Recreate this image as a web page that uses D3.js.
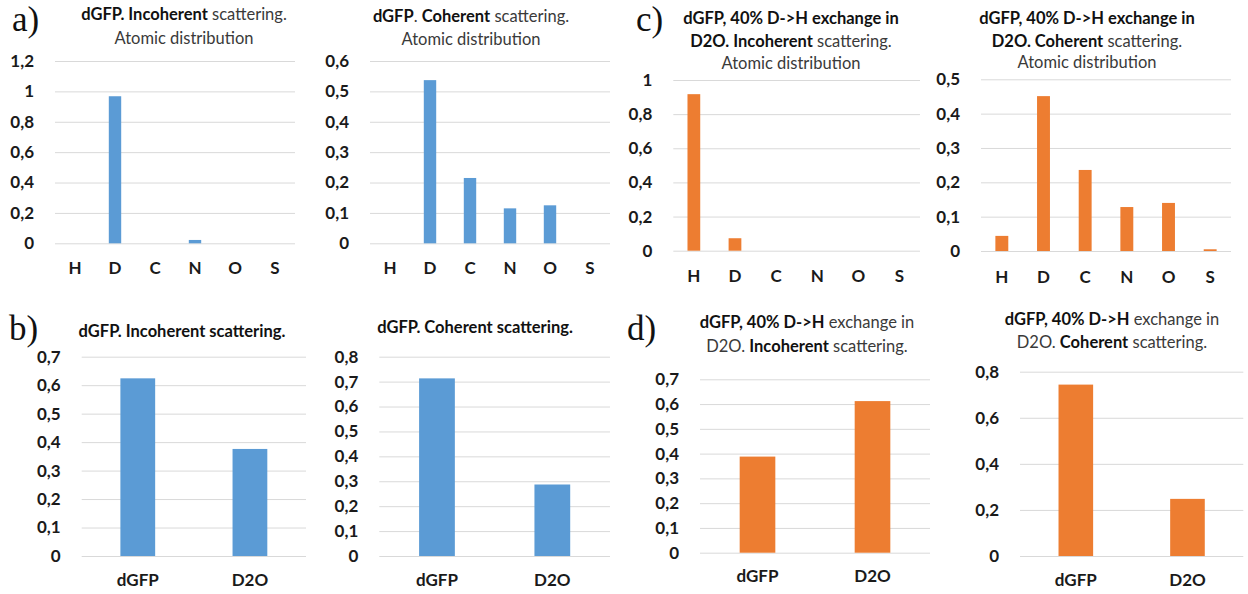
<!DOCTYPE html>
<html>
<head>
<meta charset="utf-8">
<script src="https://cdn.jsdelivr.net/npm/d3@7"></script>
<style>
  html, body { margin: 0; padding: 0; background: #fff; }
  svg { display: block; font-family: Lato, "Open Sans", sans-serif; }
</style>
</head>
<body>
<svg id="fig" width="1248" height="594"></svg>
<script>
// Atom categories (top row) and sample categories (bottom row)
const atoms = ["H", "D", "C", "N", "O", "S"];
const samples = ["dGFP", "D2O"];

// a) dGFP, atomic distribution of scattering
const dgfpIncoherentAtoms = [0, 0.968, 0, 0.022, 0, 0];
const dgfpCoherentAtoms = [0, 0.537, 0.215, 0.115, 0.125, 0];

// c) dGFP with 40% D->H exchange in D2O, atomic distribution
const exchIncoherentAtoms = [0.917, 0.073, 0, 0, 0, 0];
const exchCoherentAtoms = [0.044, 0.451, 0.236, 0.128, 0.14, 0.005];

// b) dGFP vs D2O contributions
const dgfpIncoherentSamples = [0.624, 0.376];
const dgfpCoherentSamples = [0.713, 0.287];

// d) 40% D->H exchange, dGFP vs D2O contributions
const exchIncoherentSamples = [0.388, 0.612];
const exchCoherentSamples = [0.744, 0.248];

// y-axis tick values
const ticksA1 = [0, 0.2, 0.4, 0.6, 0.8, 1, 1.2];
const ticksA2 = [0, 0.1, 0.2, 0.3, 0.4, 0.5, 0.6];
const ticksC1 = [0, 0.2, 0.4, 0.6, 0.8, 1];
const ticksC2 = [0, 0.1, 0.2, 0.3, 0.4, 0.5];
const ticksB1 = [0, 0.1, 0.2, 0.3, 0.4, 0.5, 0.6, 0.7];
const ticksB2 = [0, 0.1, 0.2, 0.3, 0.4, 0.5, 0.6, 0.7, 0.8];
const ticksD1 = [0, 0.1, 0.2, 0.3, 0.4, 0.5, 0.6, 0.7];
const ticksD2 = [0, 0.2, 0.4, 0.6, 0.8];

const BLUE = "#5B9BD5";
const ORANGE = "#ED7D31";
const AXIS_FONT = 17;
const TITLE_FONT = 16.5;

const locale = d3.formatLocale({ decimal: ",", thousands: " ", grouping: [3], currency: ["", ""] });
const fmt = locale.format("~");

const svg = d3.select("#fig");

// Panel layout: plot box [x0, x1] x [yTop, yZero] and title lines as [text, bold] runs
const panels = [
  { cats: atoms, values: dgfpIncoherentAtoms, ticks: ticksA1, color: BLUE,
    x0: 55, x1: 295, yTop: 61, yZero: 243.3, catDy: 25,
    titleX: 184, title: [
      { y: 20, runs: [["dGFP. Incoherent", true], [" scattering.", false]] },
      { y: 43.5, runs: [["Atomic distribution", false]] }] },
  { cats: atoms, values: dgfpCoherentAtoms, ticks: ticksA2, color: BLUE,
    x0: 370, x1: 610, yTop: 61, yZero: 243.3, catDy: 25,
    titleX: 471, title: [
      { y: 21.5, runs: [["dGFP", true], [". ", false], ["Coherent", true], [" scattering.", false]] },
      { y: 45, runs: [["Atomic distribution", false]] }] },
  { cats: atoms, values: exchIncoherentAtoms, ticks: ticksC1, color: ORANGE,
    x0: 673.3, x1: 920, yTop: 80, yZero: 250.7, catDy: 26,
    titleX: 791, title: [
      { y: 23.5, runs: [["dGFP, 40% D->H exchange in", true]] },
      { y: 46.5, runs: [["D2O. Incoherent", true], [" scattering.", false]] },
      { y: 68.5, runs: [["Atomic distribution", false]] }] },
  { cats: atoms, values: exchCoherentAtoms, ticks: ticksC2, color: ORANGE,
    x0: 981, x1: 1231, yTop: 79.3, yZero: 251, catDy: 26,
    titleX: 1087, title: [
      { y: 23.5, runs: [["dGFP, 40% D->H exchange in", true]] },
      { y: 46.5, runs: [["D2O. Coherent", true], [" scattering.", false]] },
      { y: 68, runs: [["Atomic distribution", false]] }] },
  { cats: samples, values: dgfpIncoherentSamples, ticks: ticksB1, color: BLUE,
    x0: 81.7, x1: 306, yTop: 356.7, yZero: 556, catDy: 24,
    titleX: 182, title: [
      { y: 336.7, runs: [["dGFP. Incoherent scattering.", true]] }] },
  { cats: samples, values: dgfpCoherentSamples, ticks: ticksB2, color: BLUE,
    x0: 379.3, x1: 610, yTop: 356.7, yZero: 556, catDy: 24,
    titleX: 475, title: [
      { y: 332.7, runs: [["dGFP. Coherent scattering.", true]] }] },
  { cats: samples, values: exchIncoherentSamples, ticks: ticksD1, color: ORANGE,
    x0: 700, x1: 930, yTop: 379.3, yZero: 552.7, catDy: 24,
    titleX: 807, title: [
      { y: 328.3, runs: [["dGFP, 40% D->H", true], [" exchange in", false]] },
      { y: 351.7, runs: [["D2O. ", false], ["Incoherent", true], [" scattering.", false]] }] },
  { cats: samples, values: exchCoherentSamples, ticks: ticksD2, color: ORANGE,
    x0: 1020, x1: 1243.3, yTop: 371.7, yZero: 556, catDy: 24,
    titleX: 1112, title: [
      { y: 325, runs: [["dGFP, 40% D->H", true], [" exchange in", false]] },
      { y: 347.5, runs: [["D2O. ", false], ["Coherent", true], [" scattering.", false]] }] }
];

panels.forEach(p => {
  const g = svg.append("g");
  const w = p.x1 - p.x0;

  const x = d3.scaleBand().domain(p.cats).range([p.x0, p.x1])
    .paddingInner(0.69).paddingOuter(0.345);
  const y = d3.scaleLinear()
    .domain([0, p.ticks[p.ticks.length - 1]])
    .range([p.yZero, p.yTop]);

  // gridlines + y tick labels
  const yAxis = g.append("g")
    .attr("transform", `translate(${p.x0},0)`)
    .call(d3.axisLeft(y).tickValues(p.ticks).tickFormat(fmt)
      .tickSize(-w).tickPadding(21));
  yAxis.select(".domain").remove();
  yAxis.selectAll(".tick line").attr("stroke", "#d9d9d9").attr("stroke-width", 1);
  yAxis.selectAll(".tick text")
    .attr("font-family", "Lato, sans-serif")
    .attr("font-size", AXIS_FONT).attr("font-weight", 700).attr("fill", "#1a1a1a");

  // bars
  g.selectAll("rect.bar").data(p.values).join("rect")
    .attr("class", "bar")
    .attr("x", (d, i) => x(p.cats[i]))
    .attr("width", x.bandwidth())
    .attr("y", d => y(d))
    .attr("height", d => y(0) - y(d))
    .attr("fill", p.color);

  // category labels
  const xAxis = g.append("g")
    .attr("transform", `translate(0,${p.yZero})`)
    .call(d3.axisBottom(x).tickSize(0).tickPadding(p.catDy - 6.5));
  xAxis.select(".domain").remove();
  xAxis.selectAll(".tick text")
    .attr("font-family", "Lato, sans-serif")
    .attr("font-size", AXIS_FONT).attr("font-weight", 700).attr("fill", "#1a1a1a");

  // title
  p.title.forEach(line => {
    const t = g.append("text")
      .attr("x", p.titleX).attr("y", line.y)
      .attr("text-anchor", "middle")
      .attr("font-size", TITLE_FONT)
      .attr("xml:space", "preserve");
    line.runs.forEach(([txt, bold]) => {
      t.append("tspan").text(txt)
        .attr("font-weight", bold ? 700 : 400)
        .attr("fill", bold ? "#111" : "#3a3a3a");
    });
  });
});

// panel letters
const letters = [
  { t: "a)", x: 12, y: 31 },
  { t: "c)", x: 636, y: 31 },
  { t: "b)", x: 9, y: 340 },
  { t: "d)", x: 627, y: 340 }
];
svg.selectAll("text.letter").data(letters).join("text")
  .attr("class", "letter")
  .attr("x", d => d.x).attr("y", d => d.y)
  .attr("font-family", "'Liberation Serif', 'DejaVu Serif', serif")
  .attr("font-size", 35)
  .attr("fill", "#111")
  .text(d => d.t);
</script>
</body>
</html>
